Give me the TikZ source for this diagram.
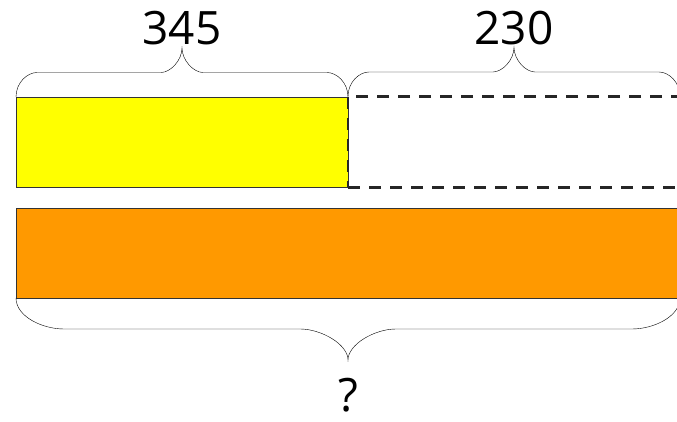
\documentclass[tikz,border=0pt]{standalone}
\usepackage{fontspec}
\setmainfont{Open Sans}
\usetikzlibrary{calc,positioning}

\definecolor{baryellow}{RGB}{255,255,0}
\definecolor{barorange}{RGB}{255,153,0}
\definecolor{braceline}{RGB}{40,40,40}

% curly brace as a to path: #1 = height up to the tip, #2 = width of the bends
\tikzset{
  bar/.style={rectangle, inner sep=0pt, outer sep=0pt, minimum height=90pt,
    draw=black!80, line width=0.8pt},
  unknown/.style={rectangle, inner sep=0pt, outer sep=0pt, minimum height=91pt,
    draw=black!85, line width=2.6pt, dash pattern=on 12pt off 9pt},
  amount/.style={inner sep=0pt, outer sep=0pt, font=\fontsize{46}{50}\selectfont},
  curly/.style 2 args={draw=braceline, line width=1.3pt, to path={
    let \p1=(\tikztostart), \p2=(\tikztotarget), \n1={(\x1+\x2)/2} in
    .. controls +(0,{0.3*(#1)}) and +({-0.45*(#2)},0) .. ({\x1+#2},{\y1+0.5*(#1)})
    -- ({\n1-#2},{\y1+0.5*(#1)})
    .. controls +({0.45*(#2)},0) and +(0,{-0.25*(#1)}) .. (\n1,{\y1+(#1)})
    .. controls +(0,{-0.25*(#1)}) and +({-0.45*(#2)},0) .. ({\n1+#2},{\y1+0.5*(#1)})
    -- ({\x2-#2},{\y1+0.5*(#1)})
    .. controls +({0.45*(#2)},0) and +(0,{0.3*(#1)}) .. (\tikztotarget)
    \tikztonodes}}
}

\begin{document}
\begin{tikzpicture}[x=1pt,y=1pt]
  \useasboundingbox (0,0) rectangle (677,422);

  % the two bars
  \node[bar, fill=baryellow, minimum width=332pt, anchor=north west] (given) at (16,325) {};
  \node[unknown, minimum width=332pt, right=0pt of given] (added) {};
  \node[bar, fill=barorange, minimum width=664pt, anchor=north west] (total) at (16,214) {};

  % braces and amounts
  \draw (given.north west) to[curly={49}{21}] (given.north east);
  \draw (added.north west) to[curly={49}{21}] (added.north east);
  \draw (total.south west) to[curly={-62}{48}] (total.south east);

  \node[amount, above=52pt of given] (sum1) {345};
  \node[amount, above=52pt of added] (sum2) {230};
  \node[amount, below=80pt of total] (result) {?};
\end{tikzpicture}
\end{document}
